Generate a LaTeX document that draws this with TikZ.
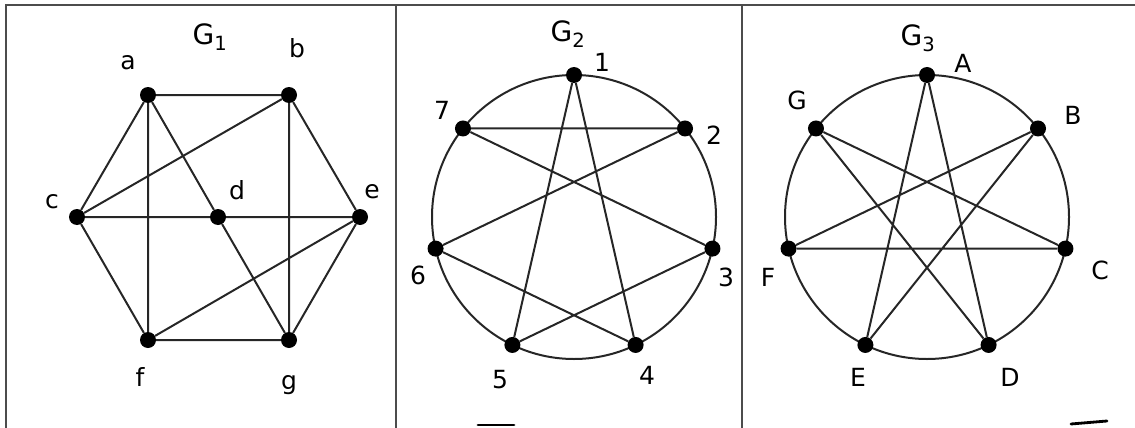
\documentclass[tikz,border=0pt]{standalone}
\usepackage{fontspec}
\setmainfont{DejaVu Sans}
\usetikzlibrary{calc}
\begin{document}
\begin{tikzpicture}[x=1pt,y=-1pt,
  vtx/.style={circle,fill=black,inner sep=0pt,minimum size=16pt},
  edge/.style={draw=black!85,line width=2pt},
  ring/.style={draw=black!85,line width=2pt},
  lbl/.style={font=\fontsize{25}{27}\selectfont,inner sep=0pt},
  glbl/.style={font=\fontsize{28}{30}\selectfont,inner sep=0pt},
  frame/.style={draw=black!70,line width=2.8pt},
  bar/.style={draw=black,line width=2.8pt,line cap=round}]
\useasboundingbox (0,0) rectangle (1135,428);
% frames
\coordinate (tl) at (6,5);
\coordinate (tr) at (1135,5);
\coordinate (bl) at (6,428);
\coordinate (m1t) at (396,5);
\coordinate (m1b) at (396,428);
\coordinate (m2t) at (742,5);
\coordinate (m2b) at (742,428);
\draw[frame] (bl) -- (tl) -- (tr);
\draw[frame] (m1t) -- (m1b);
\draw[frame] (m2t) -- (m2b);

% ---------- G1 ----------
\node[vtx] (a) at (148,95) {};
\node[vtx] (b) at (289,95) {};
\node[vtx] (c) at (77,217) {};
\node[vtx] (d) at (218,217) {};
\node[vtx] (e) at (360,217) {};
\node[vtx] (f) at (148,340) {};
\node[vtx] (g) at (289,340) {};
\path[edge] (a) -- (b) (a) -- (c) (a) -- (f) (a) -- (d) (d) -- (g)
  (b) -- (c) (b) -- (g) (b) -- (e) (c) -- (d) (d) -- (e)
  (c) -- (f) (f) -- (g) (f) -- (e) (e) -- (g);
\node[lbl] (la) at (128,63) {a};
\node[glbl] (lG1) at (210,37) {G\textsubscript{1}};
\node[lbl] (lb) at (297,48) {b};
\node[lbl] (lc) at (52,202) {c};
\node[lbl] (ld) at (237,190) {d};
\node[lbl] (le) at (372,192) {e};
\node[lbl] (lf) at (140,377) {f};
\node[lbl] (lg) at (289,385) {g};

% ---------- G2 ----------
\coordinate (o2) at (574,217);
\draw[ring] (o2) circle (142);
\foreach \n/\ang in {1/90,2/38.57,3/-12.86,4/-64.29,5/-115.71,6/-167.14,7/141.43}
  \node[vtx] (p\n) at ($(o2)+({142*cos(\ang)},{-142*sin(\ang)})$) {};
\path[edge] (p1) -- (p4) (p1) -- (p5) (p7) -- (p2) (p7) -- (p3)
  (p2) -- (p6) (p6) -- (p4) (p5) -- (p3);
\node[glbl] (lG2) at (568,34) {G\textsubscript{2}};
\node[lbl] (l1) at (602,62) {1};
\node[lbl] (l7) at (442,110) {7};
\node[lbl] (l2) at (714,135) {2};
\node[lbl] (l3) at (726,277) {3};
\node[lbl] (l4) at (647,375) {4};
\node[lbl] (l5) at (500,380) {5};
\node[lbl] (l6) at (418,275) {6};
\coordinate (b2a) at (478,425);
\coordinate (b2b) at (514,425);
\draw[bar] (b2a) -- (b2b);

% ---------- G3 ----------
\coordinate (o3) at (927,217);
\draw[ring] (o3) circle (142);
\foreach \n/\ang in {A/90,B/38.57,C/-12.86,D/-64.29,E/-115.71,F/-167.14,G/141.43}
  \node[vtx] (q\n) at ($(o3)+({142*cos(\ang)},{-142*sin(\ang)})$) {};
\path[edge] (qA) -- (qE) (qA) -- (qD) (qG) -- (qC) (qG) -- (qD)
  (qB) -- (qF) (qB) -- (qE) (qF) -- (qC);
\node[glbl] (lG3) at (918,38) {G\textsubscript{3}};
\node[lbl] (lA) at (963,63) {A};
\node[lbl] (lB) at (1073,115) {B};
\node[lbl] (lC) at (1100,270) {C};
\node[lbl] (lD) at (1010,377) {D};
\node[lbl] (lE) at (858,377) {E};
\node[lbl] (lF) at (768,277) {F};
\node[lbl] (lG) at (797,100) {G};
\coordinate (b3a) at (1071,424);
\coordinate (b3b) at (1107,421);
\draw[bar] (b3a) -- (b3b);
\end{tikzpicture}
\end{document}
